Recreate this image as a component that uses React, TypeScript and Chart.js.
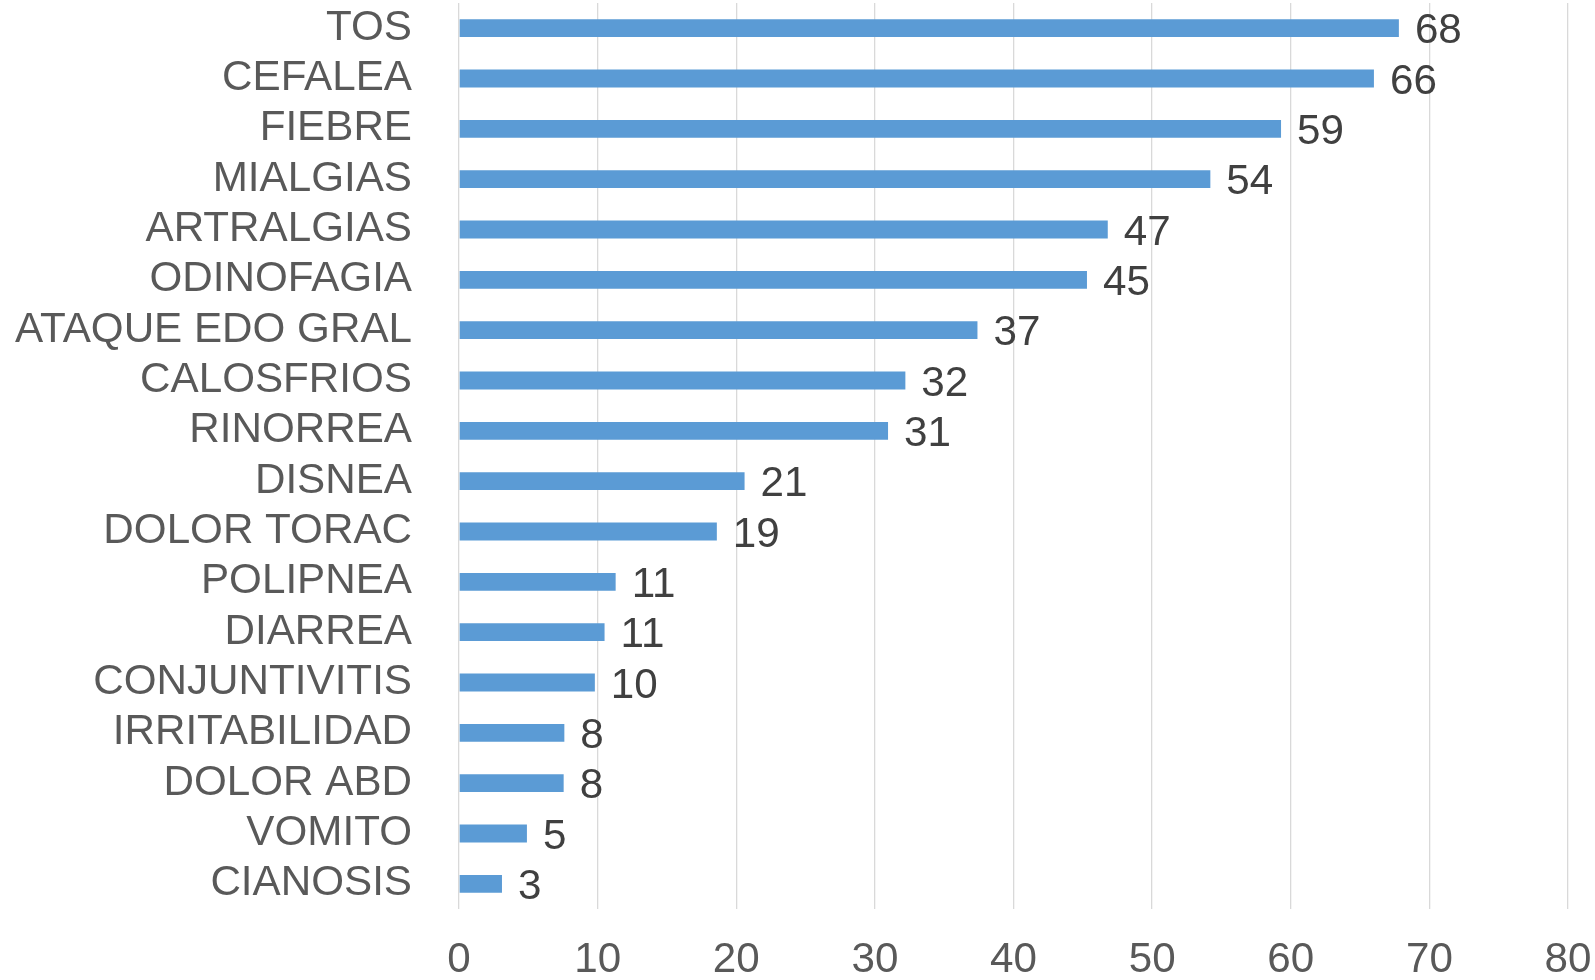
import React, { useEffect, useRef } from "react";
import { Chart, registerables } from "chart.js";

Chart.register(...registerables);

const categories = [
  "TOS",
  "CEFALEA",
  "FIEBRE",
  "MIALGIAS",
  "ARTRALGIAS",
  "ODINOFAGIA",
  "ATAQUE EDO GRAL",
  "CALOSFRIOS",
  "RINORREA",
  "DISNEA",
  "DOLOR TORAC",
  "POLIPNEA",
  "DIARREA",
  "CONJUNTIVITIS",
  "IRRITABILIDAD",
  "DOLOR ABD",
  "VOMITO",
  "CIANOSIS",
];

const values = [67.8, 66.0, 59.3, 54.2, 46.8, 45.3, 37.4, 32.2, 30.95, 20.6, 18.6, 11.3, 10.5, 9.8, 7.6, 7.55, 4.9, 3.1];

const valueLabels = ["68", "66", "59", "54", "47", "45", "37", "32", "31", "21", "19", "11", "11", "10", "8", "8", "5", "3"];

const xTicks = [0, 10, 20, 30, 40, 50, 60, 70, 80];

const FONT = "'Liberation Sans', Arial, sans-serif";
const FS = 42.2;

const dataLabelPlugin = {
  id: "dataLabels",
  afterDatasetsDraw(chart: any) {
    const ctx = chart.ctx;
    const meta = chart.getDatasetMeta(0);
    ctx.save();
    ctx.font = `${FS}px ${FONT}`;
    ctx.fillStyle = "#404040";
    ctx.textAlign = "left";
    ctx.textBaseline = "middle";
    meta.data.forEach((el: any, i: number) => {
      ctx.fillText(valueLabels[i], el.x + 16, el.y + 3.5);
    });
    ctx.restore();
  },
};

export default function App() {
  const ref = useRef<HTMLCanvasElement>(null);

  useEffect(() => {
    if (!ref.current) return;
    const chart = new Chart(ref.current, {
      type: "bar",
      data: {
        labels: categories,
        datasets: [
          {
            data: values,
            backgroundColor: "#5B9BD5",
            borderWidth: 0,
            barPercentage: 0.355,
            categoryPercentage: 1,
          },
        ],
      },
      options: {
        indexAxis: "y",
        animation: false,
        responsive: false,
        maintainAspectRatio: false,
        layout: { padding: { top: 3, right: 27, left: 0, bottom: 0 } },
        plugins: {
          legend: { display: false },
          tooltip: { enabled: false },
        },
        scales: {
          x: {
            min: 0,
            max: 80,
            afterBuildTicks: (scale: any) => {
              scale.ticks = xTicks.map((v) => ({ value: v }));
            },
            afterFit: (scale: any) => {
              scale.height = 71;
              scale.paddingLeft = 0;
              scale.paddingRight = 0;
              scale.paddingTop = 0;
              scale.paddingBottom = 0;
            },
            grid: { color: "#D9D9D9", lineWidth: 1.3, drawTicks: false },
            border: { display: false },
            ticks: {
              padding: 26,
              color: "#595959",
              font: { size: FS, family: FONT },
              maxRotation: 0,
            },
          },
          y: {
            afterFit: (scale: any) => {
              scale.width = 459;
              scale.paddingLeft = 0;
              scale.paddingRight = 0;
              scale.paddingTop = 0;
              scale.paddingBottom = 0;
            },
            grid: { display: false, drawTicks: false },
            border: { display: false },
            ticks: {
              padding: 47,
              color: "#595959",
              font: { size: FS, family: FONT },
              autoSkip: false,
            },
          },
        },
      },
      plugins: [dataLabelPlugin],
    });
    return () => chart.destroy();
  }, []);

  return (
    <div style={{ position: "fixed", left: 0, top: 0, width: 1595, height: 980, background: "#fff" }}>
      <canvas ref={ref} width={1595} height={980} style={{ width: 1595, height: 980 }} />
    </div>
  );
}
